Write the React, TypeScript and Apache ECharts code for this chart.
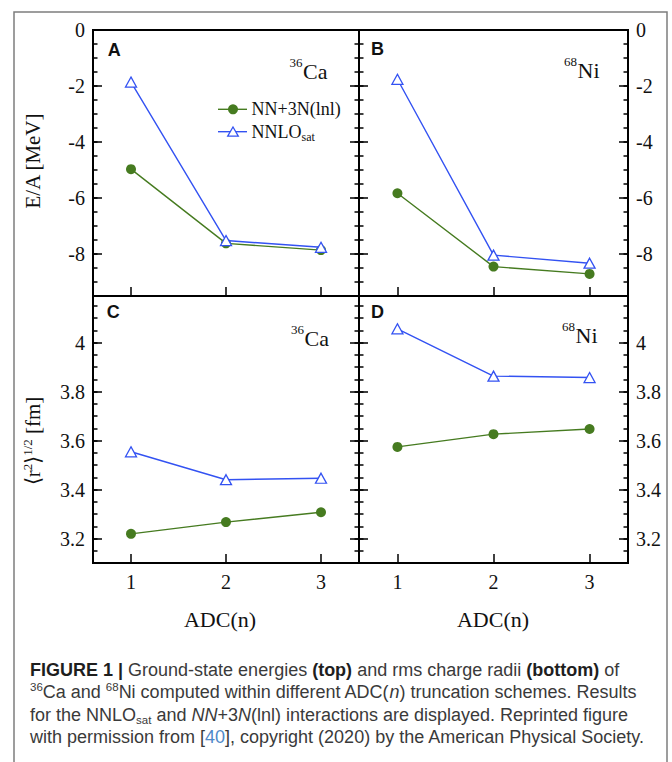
import React, { useEffect, useRef } from 'react';
import * as echarts from 'echarts';

// ---------- data ----------
const adcSteps = [1, 2, 3];
const energyCa36Lnl = [-4.97, -7.62, -7.86];
const energyCa36Sat = [-1.86, -7.52, -7.76];
const energyNi68Lnl = [-5.83, -8.45, -8.71];
const energyNi68Sat = [-1.76, -8.04, -8.33];
const radiusCa36Lnl = [3.219, 3.267, 3.307];
const radiusCa36Sat = [3.554, 3.44, 3.446];
const radiusNi68Lnl = [3.574, 3.626, 3.647];
const radiusNi68Sat = [4.056, 3.863, 3.857];
const energyTicks = [-8, -6, -4, -2, 0];
const radiusTicks = [3.2, 3.4, 3.6, 3.8, 4];
const xTicks = [1, 2, 3];
const seriesNames = ['NN+3N(lnl)', 'NNLOsat'];
const panelLetters = ['A', 'B', 'C', 'D'];
const nucleusMass = ['36', '68', '36', '68'];
const nucleusSymbol = ['Ca', 'Ni', 'Ca', 'Ni'];

// ---------- style ----------
const serif = 'Liberation Serif';
const sans = 'Liberation Sans';
const green = '#467b20';
const blue = '#3352f2';
const ink = '#111';

const grids = [
  { left: 93, top: 30, width: 266, height: 266 },
  { left: 359, top: 30, width: 269, height: 266 },
  { left: 93, top: 296, width: 266, height: 267 },
  { left: 359, top: 296, width: 269, height: 267 },
];

const energyRange = { min: -9.5, max: 0, step: 0.5, major: energyTicks };
const radiusRange = { min: 3.1, max: 4.19, step: 0.05, major: radiusTicks };

const panels = [
  { lnl: energyCa36Lnl, sat: energyCa36Sat, range: energyRange, labelSide: 'left', showX: false },
  { lnl: energyNi68Lnl, sat: energyNi68Sat, range: energyRange, labelSide: 'right', showX: false },
  { lnl: radiusCa36Lnl, sat: radiusCa36Sat, range: radiusRange, labelSide: 'left', showX: true },
  { lnl: radiusNi68Lnl, sat: radiusNi68Sat, range: radiusRange, labelSide: 'right', showX: true },
];

const tickStyle = { color: '#000', width: 1.5 };

function buildOption() {
  const xAxis: any[] = [];
  const yAxis: any[] = [];
  const series: any[] = [];

  panels.forEach((p, i) => {
    xAxis.push({
      type: 'value',
      gridIndex: i,
      position: 'bottom',
      min: 0.6,
      max: 3.4,
      axisLine: { show: false, onZero: false },
      splitLine: { show: false },
      axisTick: { show: true, inside: true, length: 9, lineStyle: tickStyle, customValues: xTicks },
      axisLabel: {
        show: p.showX,
        customValues: xTicks,
        margin: 9,
        fontSize: 20,
        fontFamily: serif,
        color: ink,
      },
    });
    const r = p.range;
    const common = {
      type: 'value',
      gridIndex: i,
      min: r.min,
      max: r.max,
      axisLine: { show: false, onZero: false },
      splitLine: { show: false },
    };
    const major = (pos: string, showLabel: boolean) => ({
      ...common,
      position: pos,
      axisTick: { show: true, inside: true, length: 9, lineStyle: tickStyle, customValues: r.major },
      axisLabel: {
        show: showLabel,
        customValues: r.major,
        margin: 8,
        fontSize: 20,
        fontFamily: serif,
        color: ink,
      },
    });
    const minor = (pos: string) => ({
      ...common,
      position: pos,
      interval: r.step,
      axisTick: { show: true, inside: true, length: 4.5, lineStyle: tickStyle },
      axisLabel: { show: false },
    });
    yAxis.push(major('left', p.labelSide === 'left'), minor('left'), major('right', p.labelSide === 'right'), minor('right'));

    series.push({
      type: 'line',
      name: seriesNames[0],
      xAxisIndex: i,
      yAxisIndex: 4 * i,
      data: adcSteps.map((x, k) => [x, p.lnl[k]]),
      symbol: 'circle',
      symbolSize: 10,
      itemStyle: { color: green },
      lineStyle: { color: green, width: 1.4 },
      z: 2,
    });
    series.push({
      type: 'line',
      name: seriesNames[1],
      xAxisIndex: i,
      yAxisIndex: 4 * i,
      data: adcSteps.map((x, k) => [x, p.sat[k]]),
      symbol: 'triangle',
      symbolSize: [11, 10],
      itemStyle: { color: '#fff', borderColor: blue, borderWidth: 1.3 },
      lineStyle: { color: blue, width: 1.4 },
      z: 3,
    });
  });

  const graphic: any[] = [];
  graphic.push({
    type: 'rect',
    silent: true,
    shape: { x: 14, y: 12, width: 653, height: 800 },
    style: { fill: 'none', stroke: '#7d7d7d', lineWidth: 1.5 },
  });

  const letterPos = [
    [107.7, 49.7],
    [371, 49.4],
    [106.7, 311.7],
    [371, 311.5],
  ];
  const nucPos = [
    [303, 71],
    [577.6, 70.8],
    [304.5, 338.3],
    [575.5, 335.8],
  ];
  panels.forEach((_, i) => {
    graphic.push({
      type: 'text',
      x: letterPos[i][0],
      y: letterPos[i][1],
      style: {
        text: panelLetters[i],
        fontSize: 18,
        fontWeight: 'bold',
        fontFamily: sans,
        fill: ink,
        align: 'left',
        verticalAlign: 'middle',
      },
    });
    graphic.push({
      type: 'text',
      x: nucPos[i][0],
      y: nucPos[i][1],
      style: {
        text: nucleusSymbol[i],
        fontSize: 22,
        fontFamily: serif,
        fill: ink,
        align: 'left',
        verticalAlign: 'middle',
      },
    });
    graphic.push({
      type: 'text',
      x: nucPos[i][0] - 0.5,
      y: nucPos[i][1] - 9,
      style: {
        text: nucleusMass[i],
        fontSize: 13,
        fontFamily: serif,
        fill: ink,
        align: 'right',
        verticalAlign: 'middle',
      },
    });
  });

  const legY1 = 109.3;
  const legY2 = 131.7;
  graphic.push(
    { type: 'line', shape: { x1: 218, y1: legY1, x2: 247, y2: legY1 }, style: { stroke: green, lineWidth: 1.4 } },
    { type: 'circle', shape: { cx: 233, cy: legY1, r: 5 }, style: { fill: green } },
    {
      type: 'text',
      x: 251.5,
      y: legY1,
      style: { text: seriesNames[0], fontSize: 18, fontFamily: serif, fill: ink, align: 'left', verticalAlign: 'middle' },
    },
    { type: 'line', shape: { x1: 218, y1: legY2, x2: 247, y2: legY2 }, style: { stroke: blue, lineWidth: 1.4 } },
    {
      type: 'polygon',
      shape: { points: [[233, legY2 - 4.7], [238.3, legY2 + 4.5], [227.7, legY2 + 4.5]] },
      style: { fill: '#fff', stroke: blue, lineWidth: 1.3 },
    },
    {
      type: 'text',
      x: 251.5,
      y: legY2,
      style: {
        text: '{m|NNLO}{s|sat}',
        fontSize: 18,
        fontFamily: serif,
        fill: ink,
        align: 'left',
        verticalAlign: 'middle',
        lineHeight: 22,
        rich: {
          m: { fontSize: 18, fontFamily: serif, fill: ink, lineHeight: 22 },
          s: { fontSize: 12, fontFamily: serif, fill: ink, lineHeight: 5, verticalAlign: 'bottom' },
        },
      },
    }
  );

  graphic.push({
    type: 'text',
    x: 33,
    y: 161,
    rotation: Math.PI / 2,
    style: { text: 'E/A [MeV]', fontSize: 21, fontFamily: serif, fill: ink, align: 'center', verticalAlign: 'middle' },
  });
  graphic.push({
    type: 'text',
    x: 33,
    y: 441,
    rotation: Math.PI / 2,
    style: {
      text: '{m|⟨r}{s|2}{m|⟩}{s|1/2}{m| [fm]}',
      fontSize: 21,
      fontFamily: serif,
      fill: ink,
      align: 'center',
      verticalAlign: 'middle',
      lineHeight: 24,
      rich: {
        m: { fontSize: 21, fontFamily: serif, fill: ink, lineHeight: 24 },
        s: { fontSize: 13, fontFamily: serif, fill: ink, lineHeight: 12, verticalAlign: 'top' },
      },
    },
  });
  [220, 493].forEach((cx) => {
    graphic.push({
      type: 'text',
      x: cx,
      y: 619,
      style: { text: 'ADC(n)', fontSize: 22, fontFamily: serif, fill: ink, align: 'center', verticalAlign: 'middle' },
    });
  });

  const capColor = '#3a3a3a';
  const capSize = 18;
  const base = { fontSize: capSize, fontFamily: sans, fill: capColor, lineHeight: 22 };
  const capRich = {
    n: { ...base },
    b: { ...base, fontWeight: 'bold', fill: '#1e1e1e' },
    i: { ...base, fontStyle: 'italic' },
    l: { ...base, fill: '#4f8ac9' },
    sup: { fontSize: 11.5, fontFamily: sans, fill: capColor, lineHeight: 12, verticalAlign: 'top' },
    sub: { fontSize: 11.5, fontFamily: sans, fill: capColor, lineHeight: 14, verticalAlign: 'bottom' },
  };
  const capLines = [
    '{b|FIGURE 1 |}{n| Ground-state energies }{b|(top)}{n| and rms charge radii }{b|(bottom)}{n| of}',
    '{sup|36}{n|Ca and }{sup|68}{n|Ni computed within different ADC(}{i|n}{n|) truncation schemes. Results}',
    '{n|for the NNLO}{sub|sat}{n| and }{i|NN}{n|+3}{i|N}{n|(lnl) interactions are displayed. Reprinted figure}',
    '{n|with permission from [}{l|40}{n|], copyright (2020) by the American Physical Society.}',
  ];
  const capY = [669.5, 692, 714.7, 737.4];
  capLines.forEach((t, k) => {
    graphic.push({
      type: 'text',
      x: 30,
      y: capY[k],
      style: {
        text: t,
        ...base,
        align: 'left',
        verticalAlign: 'middle',
        rich: capRich,
      },
    });
  });

  return {
    animation: false,
    backgroundColor: '#fff',
    grid: grids.map((g) => ({
      ...g,
      show: true,
      borderColor: '#000',
      borderWidth: 2,
      backgroundColor: 'transparent',
      containLabel: false,
    })),
    xAxis,
    yAxis,
    series,
    graphic,
  };
}

export default function App() {
  const ref = useRef<HTMLDivElement>(null);
  useEffect(() => {
    const chart = echarts.init(ref.current!, null, { renderer: 'svg' });
    chart.setOption(buildOption() as any);
    return () => chart.dispose();
  }, []);
  return (
    <div
      ref={ref}
      style={{ position: 'fixed', left: 0, top: 0, width: 672, height: 762, background: '#fff' }}
    />
  );
}
